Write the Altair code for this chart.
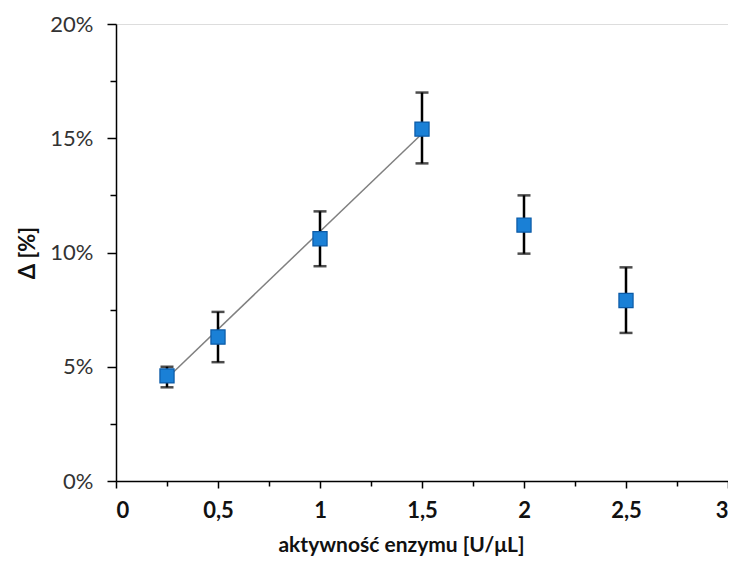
import altair as alt
import pandas as pd

x_vals = [0.25, 0.5, 1.0, 1.5, 2.0, 2.5]
y_vals = [0.046, 0.063, 0.106, 0.154, 0.112, 0.079]
err_lo = [0.041, 0.052, 0.094, 0.139, 0.0995, 0.0648]
err_hi = [0.050, 0.074, 0.118, 0.170, 0.125, 0.0935]

trend_x = [0.25, 1.5]
trend_y = [0.045, 0.152]

x_major = [0, 0.5, 1, 1.5, 2, 2.5, 3]
x_minor = [0.25, 0.75, 1.25, 1.75, 2.25, 2.75]
y_major = [0, 0.05, 0.10, 0.15, 0.20]
y_minor = [0.025, 0.075, 0.125, 0.175]

df = pd.DataFrame({"x": x_vals, "y": y_vals, "lo": err_lo, "hi": err_hi})
tdf = pd.DataFrame({"x": trend_x, "y": trend_y})

FONT = "Lato"
xs = alt.Scale(domain=[0, 3], nice=False, zero=False)
ys = alt.Scale(domain=[0, 0.20], nice=False)

x_axis = alt.Axis(values=x_major, title="aktywność enzymu [U/μL]", orient="bottom",
                  labelExpr="replace(format(datum.value, '~g'), '.', ',')", grid=False,
                  domainColor="#000", domainWidth=1.5, tickColor="#000", tickWidth=1.5,
                  tickSize=7, labelFont=FONT, labelFontSize=22, labelColor="#111",
                  labelFontWeight="bold", labelPadding=12,
                  titleFont=FONT, titleFontSize=21, titleFontWeight="bold", titleColor="#111",
                  titlePadding=13, titleX=285)
y_axis = alt.Axis(values=y_major, title="Δ [%]", format=".0%", grid=False, orient="left",
                  domainColor="#000", domainWidth=1.5, tickColor="#000", tickWidth=1.5,
                  tickSize=9, labelFont=FONT, labelFontSize=22, labelColor="#333",
                  labelPadding=14,
                  titleFont=FONT, titleFontSize=22, titleFontWeight="bold", titleColor="#111",
                  titlePadding=10)

x_axis_minor = alt.Axis(values=x_minor, title=None, orient="bottom", labels=False, domain=False,
                        grid=False, tickColor="#000", tickWidth=1.5, tickSize=5)
y_axis_minor = alt.Axis(values=y_minor, title=None, orient="left", labels=False, domain=False,
                        grid=False, tickColor="#000", tickWidth=1.5, tickSize=6)

base = alt.Chart(df)

minor = alt.Chart(df).mark_point(opacity=0).encode(
    x=alt.X("x:Q", scale=xs, axis=x_axis_minor),
    y=alt.Y("y:Q", scale=ys, axis=y_axis_minor),
)

trend = alt.Chart(tdf).mark_line(color="#808080", strokeWidth=1.5).encode(
    x=alt.X("x:Q", scale=xs, axis=x_axis),
    y=alt.Y("y:Q", scale=ys, axis=y_axis),
)

rules = base.mark_rule(color="#000", strokeWidth=2.5).encode(
    x=alt.X("x:Q", scale=xs, axis=None), y=alt.Y("lo:Q", scale=ys, axis=None), y2="hi:Q"
)
cap_lo = base.mark_tick(color="#000", thickness=2.5, size=13, orient="horizontal").encode(
    x=alt.X("x:Q", scale=xs, axis=None), y=alt.Y("lo:Q", scale=ys, axis=None)
)
cap_hi = base.mark_tick(color="#000", thickness=2.5, size=13, orient="horizontal").encode(
    x=alt.X("x:Q", scale=xs, axis=None), y=alt.Y("hi:Q", scale=ys, axis=None)
)
points = base.mark_square(size=200, fill="#1a80d6", stroke="#0b5aa6", strokeWidth=1.2,
                          opacity=1).encode(
    x=alt.X("x:Q", scale=xs, axis=None), y=alt.Y("y:Q", scale=ys, axis=None)
)

chart = alt.layer(trend, minor, rules, cap_lo, cap_hi, points).resolve_axis(
    x="independent", y="independent"
).properties(
    width=612, height=457,
    autosize=alt.AutoSizeParams(type="none"),
    padding={"left": 108, "top": 16, "right": 0, "bottom": 79},
).configure_view(strokeWidth=0).configure(background="white")

chart.save("out.html", embed_options={"renderer": "svg", "actions": False})
